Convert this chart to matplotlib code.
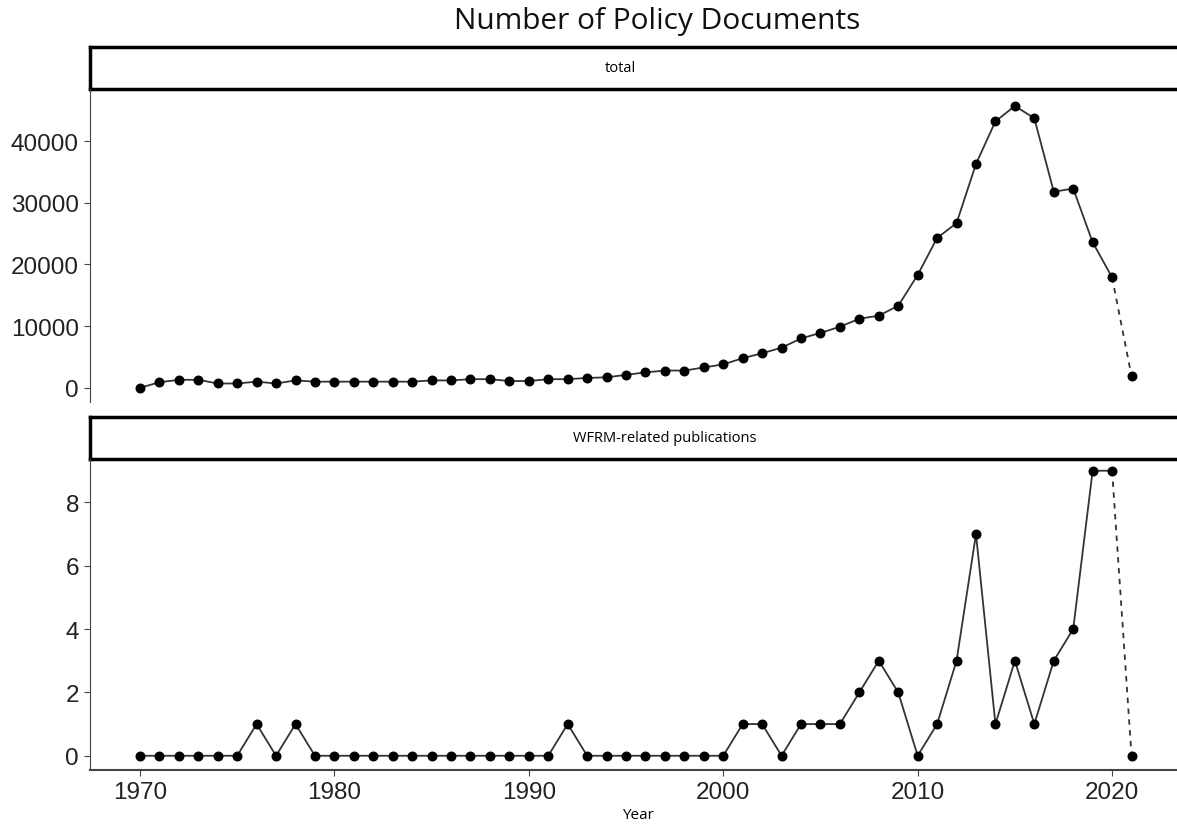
import matplotlib.pyplot as plt

# --------------------------------------------------------
# DATA
# --------------------------------------------------------
years = list(range(1970, 2022))

total_docs = [
    0, 900, 1300, 1300, 700, 700, 1000, 700, 1200, 1000,
    1000, 1000, 1000, 1000, 1000, 1200, 1200, 1400, 1400, 1100,
    1100, 1400, 1400, 1600, 1700, 2100, 2500, 2800, 2800, 3300,
    3800, 4800, 5600, 6500, 8000, 8900, 9900, 11200, 11700, 13300,
    18300, 24300, 26700, 36300, 43200, 45700, 43700, 31800, 32300, 23600,
    17900, 1900,
]

wfrm_docs = [
    0, 0, 0, 0, 0, 0, 1, 0, 1, 0,
    0, 0, 0, 0, 0, 0, 0, 0, 0, 0,
    0, 0, 1, 0, 0, 0, 0, 0, 0, 0,
    0, 1, 1, 0, 1, 1, 1, 2, 3, 2,
    0, 1, 3, 7, 1, 3, 1, 3, 4, 9,
    9, 0,
]

panel_titles = ["total", "WFRM-related publications"]
top_ticks = [0, 10000, 20000, 30000, 40000]
bottom_ticks = [0, 2, 4, 6, 8]
x_ticks = [1970, 1980, 1990, 2000, 2010, 2020]

# --------------------------------------------------------
# FIGURE
# --------------------------------------------------------
W, H = 1177, 829
fig = plt.figure(figsize=(W / 100, H / 100), dpi=100)


def fx(px):
    return px / W


def fy(top, bottom):
    return 1 - bottom / H, (bottom - top) / H


left = fx(90)
width = fx(1185) - left
line_col = "#333333"
tick_col = "#222222"
tick_font = "Liberation Sans"
label_font = "Open Sans"

fig.text(fx(657), 1 - 22 / H, "Number of Policy Documents", ha="center", va="center",
         fontsize=21.5, family=label_font, color="#111111")


def add_strip(top, bottom, label, text_x):
    b, h = fy(top, bottom)
    sax = fig.add_axes([left, b, width, h])
    sax.set_xticks([])
    sax.set_yticks([])
    for sp in sax.spines.values():
        sp.set_linewidth(2.5)
        sp.set_color("black")
    fig.text(fx(text_x), b + h / 2, label, ha="center", va="center", fontsize=10.5,
             family=label_font)
    return sax


def draw_series(ax, vals):
    ax.plot(years[:-1], vals[:-1], color=line_col, lw=1.3, zorder=2)
    ax.plot(years[-2:], vals[-2:], color=line_col, lw=1.3, ls=(0, (3, 3)), zorder=2)
    ax.scatter(years, vals, s=38, color="black", zorder=3)


add_strip(48, 90, panel_titles[0], 620)
add_strip(418, 460, panel_titles[1], 665)

# top panel
b, h = fy(90, 403)
ax1 = fig.add_axes([left, b, width, h])
draw_series(ax1, total_docs)
ax1.set_xlim(1967.43, 2023.75)
ax1.set_ylim(-2300, 48450)
ax1.set_yticks(top_ticks)
ax1.set_xticks([])
for sp in ["top", "right", "bottom"]:
    ax1.spines[sp].set_visible(False)
ax1.spines["left"].set_color("#444444")

# bottom panel
b, h = fy(460, 771)
ax2 = fig.add_axes([left, b, width, h])
draw_series(ax2, wfrm_docs)
ax2.set_xlim(1967.43, 2023.75)
ax2.set_ylim(-0.45, 9.37)
ax2.set_yticks(bottom_ticks)
ax2.set_xticks(x_ticks)
for sp in ["top", "right"]:
    ax2.spines[sp].set_visible(False)
ax2.spines["left"].set_color("#444444")
ax2.spines["bottom"].set_color("#444444")
ax2.spines["bottom"].set_linewidth(1.5)

for ax in (ax1, ax2):
    ax.set_facecolor("none")
    ax.tick_params(length=4, color="#444444", labelsize=17.5, labelcolor=tick_col, pad=4)
    for lab in ax.get_xticklabels() + ax.get_yticklabels():
        lab.set_family(tick_font)

ax2.set_xlabel("Year", fontsize=11, family=label_font, labelpad=3)

fig.savefig("out.png", dpi=100)
